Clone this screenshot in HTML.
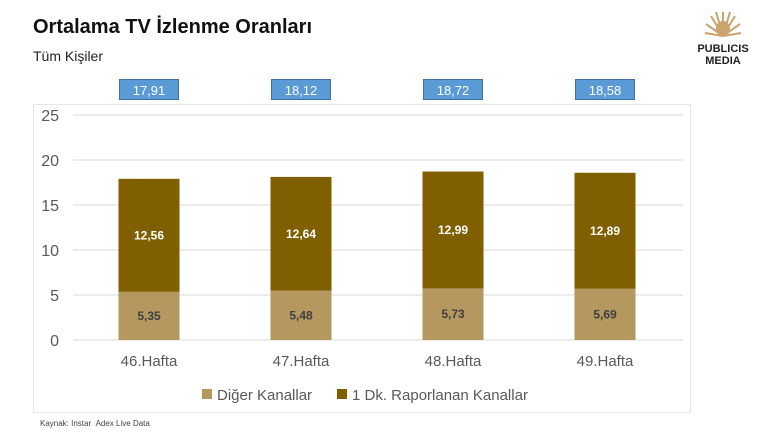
<!DOCTYPE html>
<html><head><meta charset="utf-8"><style>
body{margin:0;width:769px;height:432px;background:#fff;font-family:"Liberation Sans",sans-serif;position:relative;overflow:hidden}
.t{position:absolute}
</style></head><body>
<div class="t" style="left:33px;top:16px;font-size:20px;font-weight:bold;color:#111">Ortalama TV İzlenme Oranları</div>
<div class="t" style="left:33px;top:48px;font-size:14px;color:#222">Tüm Kişiler</div>
<div class="t" style="left:688px;top:8px;width:70px;text-align:center">
<svg width="40" height="30" viewBox="0 0 40 30"><g stroke="#c9a46e" stroke-width="2" fill="none"><path d="M20 28 L20 4 M20 28 L8 8 M20 28 L32 8 M20 28 L3 16 M20 28 L37 16 M20 28 L2 25 M20 28 L38 25 M20 28 L13 4 M20 28 L27 4"/></g><circle cx="20" cy="20" r="7" fill="#c9a46e"/></svg>
<div style="font-size:11px;font-weight:bold;color:#222;line-height:12px">PUBLICIS<br>MEDIA</div></div>
<div class="t" style="left:33px;top:104px;width:656px;height:307px;border:1px solid #e6e6e6"></div>
<svg id="c" class="t" style="left:0;top:0" width="769" height="432"></svg>
<div class="t" style="left:40px;top:419px;font-size:8px;color:#444">Kaynak: Instar &nbsp;Adex Live Data</div>
<script>
const categories=["46.Hafta","47.Hafta","48.Hafta","49.Hafta"];
const other=[5.35,5.48,5.73,5.69];
const reported=[12.56,12.64,12.99,12.89];
const totals=["17,91","18,12","18,72","18,58"];
const ticks=[0,5,10,15,20,25];
const svg=document.getElementById('c');const NS="http://www.w3.org/2000/svg";
const y=v=>340-v*9;const xc=i=>149+i*152;
function mk(t,a,txt){const e=document.createElementNS(NS,t);for(const k in a)e.setAttribute(k,a[k]);if(txt!=null)e.textContent=txt;svg.appendChild(e);return e;}
ticks.forEach(v=>{
const l=mk('line',{x1:73,x2:683,y1:y(v),y2:y(v),stroke:'#d9d9d9','stroke-width':1});


const t=mk('text',{x:59,y:y(v)+6,'text-anchor':'end','font-size':16,fill:'#595959'},v);


});
categories.forEach((c,i)=>{
const x=xc(i)-30.5;
const b1=mk('rect',{x:x,y:y(other[i]),width:61,height:other[i]*9,fill:'#b5985f'});


const b2=mk('rect',{x:x,y:y(other[i]+reported[i]),width:61,height:reported[i]*9,fill:'#7f5f00'});


const l1=mk('text',{x:xc(i),y:y(other[i]/2)+4,'text-anchor':'middle','font-size':12,'font-weight':'bold',fill:'#404040'},other[i].toFixed(2).replace('.',','));


const l2=mk('text',{x:xc(i),y:y(other[i]+reported[i]/2)+4,'text-anchor':'middle','font-size':12,'font-weight':'bold',fill:'#fff'},reported[i].toFixed(2).replace('.',','));


const cl=mk('text',{x:xc(i),y:366,'text-anchor':'middle','font-size':15,fill:'#595959'},c);


const tb=mk('rect',{x:xc(i)-29.5,y:79.5,width:59,height:20,fill:'#5b9bd5',stroke:'#41719c','stroke-width':1});


const tt=mk('text',{x:xc(i),y:95,'text-anchor':'middle','font-size':13,fill:'#fff'},totals[i]);


});
const lg=[["Diğer Kanallar","#b5985f",202],["1 Dk. Raporlanan Kanallar","#7f5f00",337]];
lg.forEach(([n,c,x])=>{
const r=mk('rect',{x:x,y:389,width:10,height:10,fill:c});


const t=mk('text',{x:x+15,y:400,'font-size':15,fill:'#595959'},n);


});
</script>
</body></html>
